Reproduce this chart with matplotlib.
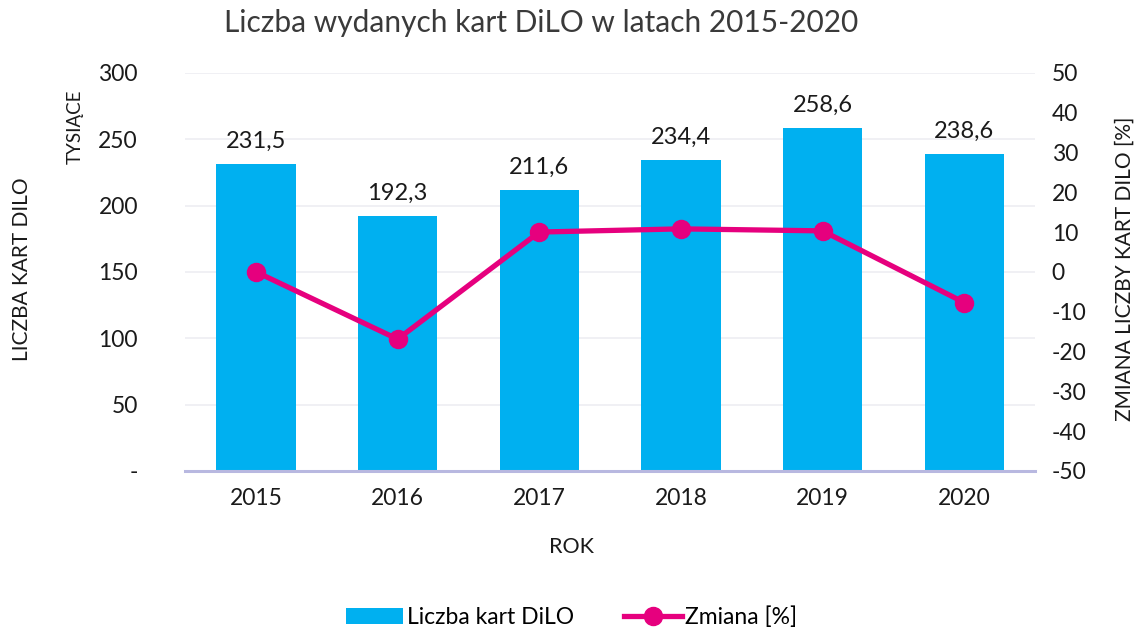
import matplotlib
matplotlib.use("Agg")
import matplotlib.pyplot as plt
from matplotlib.ticker import FuncFormatter

plt.rcParams['font.family'] = ['Lato', 'DejaVu Sans']

years = ["2015", "2016", "2017", "2018", "2019", "2020"]
cards = [231.5, 192.3, 211.6, 234.4, 258.6, 238.6]
change = [0.0, -16.9, 10.0, 10.8, 10.3, -7.7]

bar_color = "#00B0F0"
line_color = "#E6007E"
txt = "#1a1a1a"

fig = plt.figure(figsize=(11.43, 6.33), dpi=100)
ax = fig.add_axes([0.162, 0.256, 0.7435, 0.629])
x = list(range(len(years)))
bars = ax.bar(x, cards, width=0.56, color=bar_color, zorder=2, label="Liczba kart DiLO")
ax.set_xlim(-0.5, len(years) - 0.5)
ax.set_ylim(0, 300)
ax.set_yticks(range(0, 301, 50))
ax.yaxis.set_major_formatter(FuncFormatter(lambda v, p: "-" if v == 0 else f"{int(v)}"))
ax.set_xticks(x)
ax.set_xticklabels(years)
ax.grid(axis="y", color="#EEEEF2", linewidth=1.2, zorder=0)
for s in ["top", "right", "left"]:
    ax.spines[s].set_visible(False)
ax.spines["bottom"].set_color("#B8B8E0")
ax.spines["bottom"].set_linewidth(2.2)
ax.spines["bottom"].set_zorder(3)
ax.tick_params(axis="both", length=0, labelsize=16.5, colors=txt)
ax.tick_params(axis="y", pad=34)
ax.tick_params(axis="x", pad=12)

for xi, v in zip(x, cards):
    ax.text(xi, v + 9, f"{v:.1f}".replace(".", ","), ha="center", va="bottom",
            fontsize=17, color=txt)

ax2 = ax.twinx()
ax2.set_ylim(-50, 50)
ax2.set_yticks(range(-50, 51, 10))
ax2.yaxis.set_major_formatter(FuncFormatter(lambda v, p: f"{int(round(v))}"))
for s in ["top", "right", "left", "bottom"]:
    ax2.spines[s].set_visible(False)
ax2.tick_params(axis="y", length=0, labelsize=16.5, colors=txt, pad=12)
line, = ax2.plot(x, change, color=line_color, linewidth=3.8, marker="o",
                 markersize=13, zorder=4, label="Zmiana [%]")

fig.text(0.019, 0.575, "LICZBA KART DILO", rotation=90, ha="center", va="center",
         fontsize=15, color=txt)
fig.text(0.066, 0.80, "TYSIĄCE", rotation=90, ha="center", va="center",
         fontsize=13.5, color=txt)
fig.text(0.984, 0.575, "ZMIANA LICZBY KART DILO [%]", rotation=90, ha="center",
         va="center", fontsize=15, color=txt)
fig.text(0.5, 0.136, "ROK", ha="center", va="center", fontsize=15.5, color=txt)
fig.text(0.4735, 0.963, "Liczba wydanych kart DiLO w latach 2015-2020", ha="center",
         va="center", fontsize=21.5, color="#3a3a3a")

fig.legend([bars, line], ["Liczba kart DiLO", "Zmiana [%]"], loc="center",
           bbox_to_anchor=(0.5, 0.025), ncol=2, frameon=False, fontsize=16.5,
           handlelength=2.5, handletextpad=0.15, columnspacing=2.2)

fig.savefig("out.png", dpi=100)
